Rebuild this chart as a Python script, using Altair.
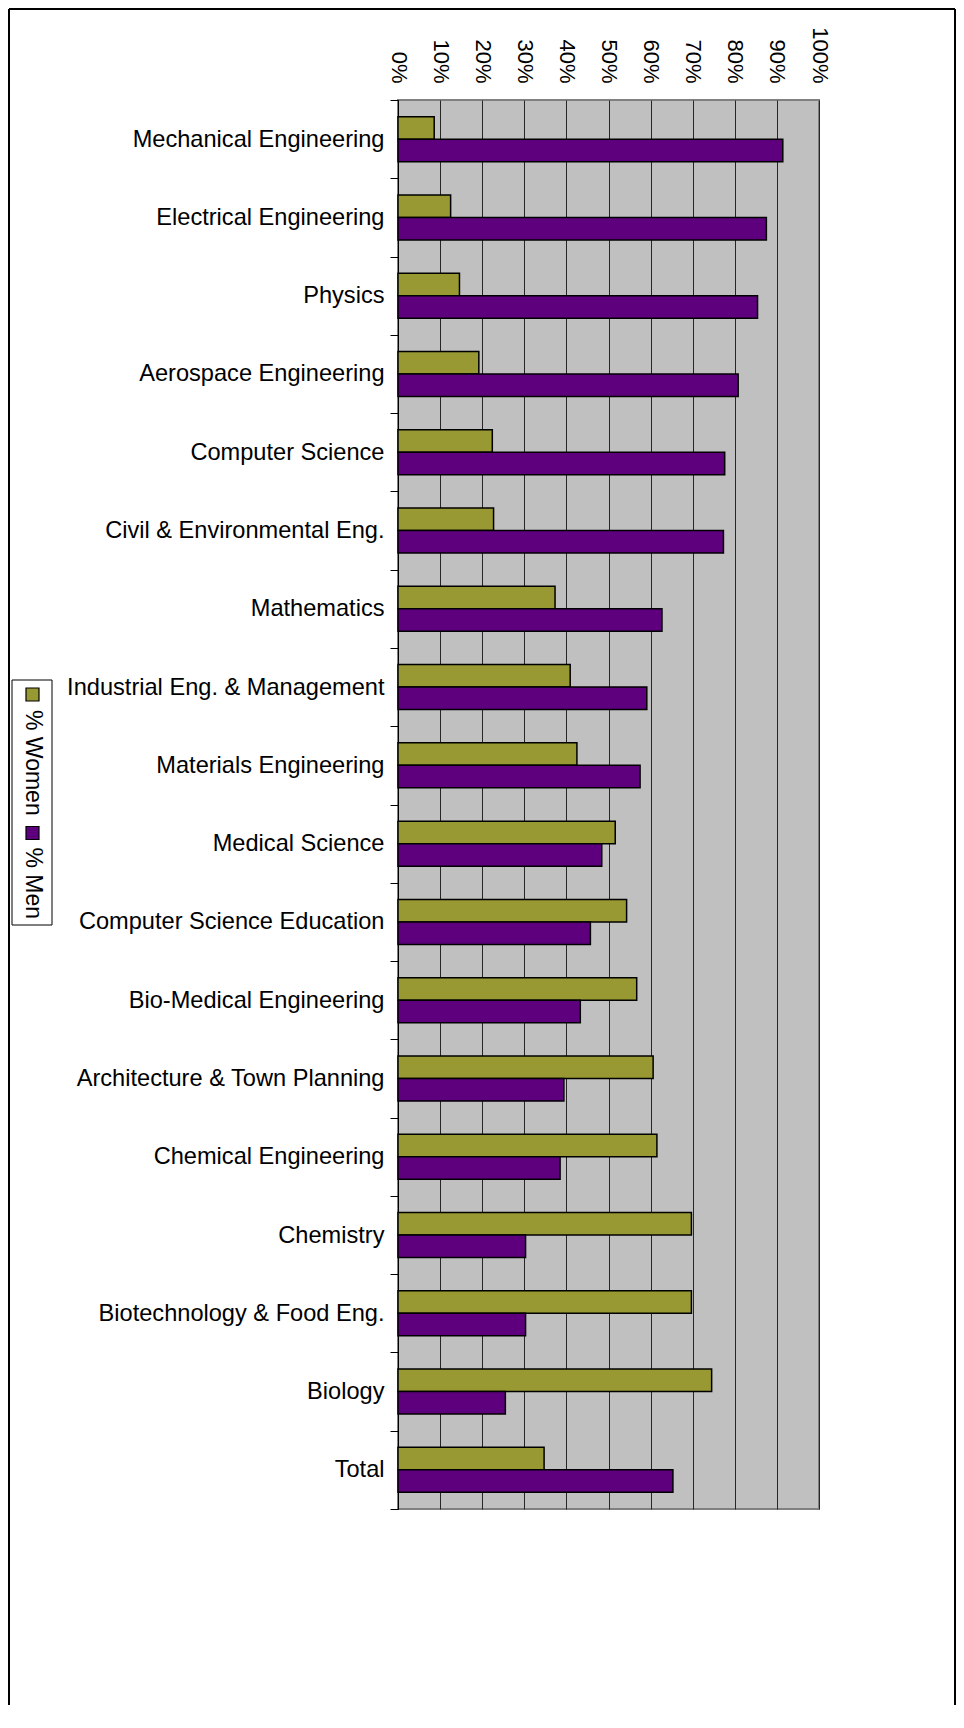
import altair as alt
import pandas as pd

categories = [
    "Mechanical Engineering", "Electrical Engineering", "Physics", "Aerospace Engineering",
    "Computer Science\u00a0", "Civil & Environmental Eng.", "Mathematics",
    "Industrial Eng. & Management", "Materials Engineering", "Medical Science",
    "Computer Science Education", "Bio-Medical Engineering", "Architecture & Town Planning",
    "Chemical Engineering", "Chemistry", "Biotechnology & Food Eng.\u00a0", "Biology", "Total",
]
women = [8.6, 12.5, 14.6, 19.2, 22.4, 22.7, 37.3, 40.9, 42.5, 51.6, 54.3, 56.7, 60.6, 61.5, 69.7, 69.7, 74.5, 34.7]
men = [91.4, 87.5, 85.4, 80.8, 77.6, 77.3, 62.7, 59.1, 57.5, 48.4, 45.7, 43.3, 39.4, 38.5, 30.3, 30.3, 25.5, 65.3]
series = ["% Women", "% Men"]
colors = ["#999933", "#5e007e"]
tick_values = list(range(0, 101, 10))

rows = []
for c, w, m in zip(categories, women, men):
    rows.append({"category": c, "series": series[0], "value": w})
    rows.append({"category": c, "series": series[1], "value": m})
df = pd.DataFrame(rows)

FONT = "Liberation Sans"
W, H = 421, 1409

bars = alt.Chart(df).mark_bar(stroke="black", strokeWidth=1.5).encode(
    y=alt.Y(
        "category:N", sort=categories,
        scale=alt.Scale(paddingInner=0, paddingOuter=0),
        axis=alt.Axis(
            orient="left", title=None, tickBand="extent", ticks=True, tickSize=8,
            tickColor="black", tickWidth=1, domain=True, domainColor="black", domainWidth=1,
            labelFont=FONT, labelFontSize=23.6, labelColor="black", labelPadding=6,
            labelLimit=400, grid=False,
        ),
    ),
    yOffset=alt.YOffset("series:N", sort=series,
                        scale=alt.Scale(paddingInner=0, paddingOuter=0.74)),
    x=alt.X(
        "value:Q", scale=alt.Scale(domain=[0, 100], nice=False, zero=True),
        axis=alt.Axis(
            orient="top", values=tick_values, labelExpr="datum.value + '%'",
            labelAngle=90, labelAlign="right", labelBaseline="middle", labelPadding=17,
            ticks=False, tickSize=0, domain=False, grid=True, gridColor="#262626", gridWidth=1,
            title=None, labelFont=FONT, labelFontSize=22, labelColor="black",
        ),
    ),
    color=alt.Color("series:N", sort=series,
                    scale=alt.Scale(domain=series, range=colors), legend=None),
)

one = pd.DataFrame({"k": [0]})
rule = dict(color="black", strokeWidth=2)
frame_top = alt.Chart(one).mark_rule(**rule).encode(
    x=alt.value(-389), x2=alt.value(557), y=alt.value(-91))
frame_left = alt.Chart(one).mark_rule(**rule).encode(
    x=alt.value(-389), y=alt.value(-91), y2=alt.value(1605))
frame_right = alt.Chart(one).mark_rule(**rule).encode(
    x=alt.value(557), y=alt.value(-91), y2=alt.value(1605))

legend_box = alt.Chart(one).mark_rect(fill="white", stroke="black", strokeWidth=1).encode(
    x=alt.value(-386), x2=alt.value(-346), y=alt.value(580), y2=alt.value(825))

legend_layers = []
sq_y = [588, 726.5]
txt_y = [610, 747.5]
for s, col, sy, ty in zip(series, colors, sq_y, txt_y):
    legend_layers.append(
        alt.Chart(one).mark_rect(fill=col, stroke="black", strokeWidth=1.2).encode(
            x=alt.value(-372), x2=alt.value(-359), y=alt.value(sy), y2=alt.value(sy + 13))
    )
    legend_layers.append(
        alt.Chart(one).mark_text(
            text=s, angle=90, align="left", baseline="middle",
            font=FONT, fontSize=23, color="black",
        ).encode(x=alt.value(-365.5), y=alt.value(ty))
    )

chart = alt.layer(
    bars, frame_top, frame_left, frame_right, legend_box, *legend_layers
).properties(
    width=W, height=H, padding=0, background="white",
).configure_view(
    fill="#c0c0c0", stroke="#808080", strokeWidth=2,
)

chart.save("out.html", embed_options={"renderer": "svg", "actions": False})
